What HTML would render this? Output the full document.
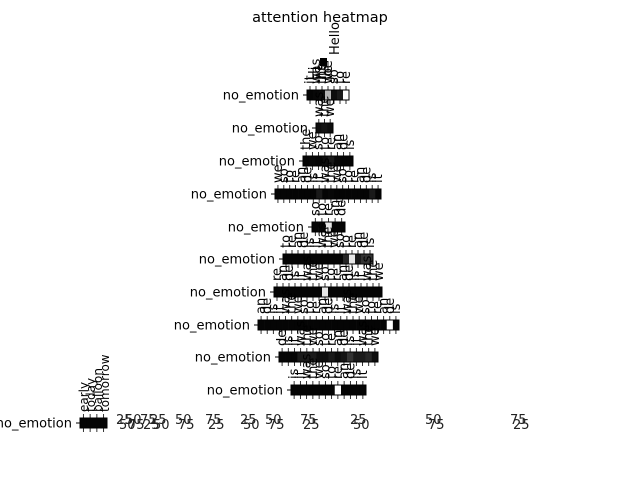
<!DOCTYPE html>
<html><head><meta charset="utf-8">
<style>
html,body{margin:0;padding:0;background:#fff;}
svg{display:block;font-family:"DejaVu Sans","Liberation Sans",sans-serif;}
</style></head>
<body>
<svg id="chart" width="640" height="480" viewBox="0 0 640 480" xmlns="http://www.w3.org/2000/svg">
<text x="320" y="22" font-size="14.5" text-anchor="middle">attention heatmap</text>
<g id="rows"></g>
<g id="xlabels" font-size="13"></g>
</svg>
<script>
// data: attention weights per row (0 = black, 1 = white)
const rowLabels = ["no_emotion","no_emotion","no_emotion","no_emotion","no_emotion","no_emotion","no_emotion","no_emotion","no_emotion","no_emotion","no_emotion"];
const row1 = [0.02,0.03,0.05,0.7,0.05,0.1,1.0];
const row2 = [0.05,0.08,0.05];
const row3 = [0.02,0.03,0.02,0.05,0.1,0.03,0.02,0.02];
const row4 = [0.02,0.02,0.02,0.02,0.02,0.02,0.02,0.1,0.02,0.03,0.02,0.02,0.02,0.02,0.02,0.02,0.1,0.02];
const row5 = [0.02,0.02,0.9,0.02,0.02];
const row6 = [0.02,0.02,0.02,0.02,0.02,0.02,0.02,0.02,0.02,0.02,0.15,0.9,0.1,0.2,0.2];
const row7 = [0.02,0.02,0.02,0.02,0.02,0.02,0.02,0.02,0.9,0.02,0.02,0.02,0.02,0.02,0.02,0.02,0.02,0.02];
const row8 = [0.02,0.02,0.02,0.02,0.02,0.02,0.02,0.02,0.02,0.02,0.02,0.02,0.02,0.02,0.02,0.02,0.02,0.02,0.02,0.02,0.02,1.0,0.02];
const row9 = [0.02,0.02,0.02,0.1,0.1,0.1,0.05,0.05,0.1,0.05,0.08,0.2,0.1,0.1,0.15,0.05];
const row10 = [0.02,0.02,0.02,0.02,0.02,0.02,0.02,1.0,0.02,0.02,0.02,0.02];
const row11 = [0.02,0.02,0.02,0.02];
const topWords = ["Hi","Its","Joe","Hello"];
const xTickText = ["25","50","75"];

// layout (not data)
const rowsData=[row1,row2,row3,row4,row5,row6,row7,row8,row9,row10,row11];
const layout=[[95,307,349],[128,316,333],[161,303,353],[194,275,381],[227,312,345],[259,283,373],[292,274,382],[325,258,399],[357,279,378],[390,291,366],[423,80,107]];
const ns="http://www.w3.org/2000/svg";
const g=document.getElementById('rows');
function col(v){const c=Math.round(v*255);return `rgb(${c},${c},${c})`;}
const words=["it","was","the","we","so","to","re","an","de","is"];
rowsData.forEach((vals,i)=>{
  const [cy,x0,x1]=layout[i];
  const w=(x1-x0)/vals.length, h=10;
  const lab=document.createElementNS(ns,'text');
  
  
  lab.setAttribute('x',x0-8);lab.setAttribute('y',cy+4.5);
  lab.setAttribute('font-size','13');lab.setAttribute('text-anchor','end');
  lab.textContent=rowLabels[i];g.appendChild(lab);
  const t=document.createElementNS(ns,'line');
  t.setAttribute('x1',x0-4);t.setAttribute('x2',x0);t.setAttribute('y1',cy);t.setAttribute('y2',cy);t.setAttribute('stroke','#000');
  g.appendChild(t);
  vals.forEach((v,j)=>{
    const r=document.createElementNS(ns,'rect');
    
    
    r.setAttribute('x',x0+j*w);r.setAttribute('y',cy-h/2);
    r.setAttribute('width',w+0.3);r.setAttribute('height',h);
    r.setAttribute('fill',col(v));g.appendChild(r);
    const tk=document.createElementNS(ns,'path');
    const cx=x0+(j+0.5)*w;
    tk.setAttribute('d',`M${cx},${cy-h/2}v-4M${cx},${cy+h/2}v4`);
    tk.setAttribute('stroke','#000');tk.setAttribute('stroke-width','0.8');
    g.appendChild(tk);
    if(i<10){
      const wd=document.createElementNS(ns,'text');
      
      
      wd.setAttribute('font-size','13');
      wd.setAttribute('transform',`translate(${cx+4},${cy-h/2-6}) rotate(-90)`);
      wd.textContent=words[(j+i)%10];
      g.appendChild(wd);
    }
  });
  const ol=document.createElementNS(ns,'rect');
  ol.setAttribute('x',x0);ol.setAttribute('y',cy-h/2);ol.setAttribute('width',x1-x0);ol.setAttribute('height',h);
  ol.setAttribute('fill','none');ol.setAttribute('stroke','#000');ol.setAttribute('stroke-width','1');
  g.appendChild(ol);
});
topWords.forEach((w,k)=>{
  const wd=document.createElementNS(ns,'text');
  
  
  wd.setAttribute('font-size','13');
  wd.setAttribute('transform',`translate(${318+k*7},${80-(k===3?25:0)}) rotate(-90)`);
  wd.textContent=w;g.appendChild(wd);
});
const tr=document.createElementNS(ns,'rect');


tr.setAttribute('x',320);tr.setAttribute('y',58);tr.setAttribute('width',7);tr.setAttribute('height',8);
g.appendChild(tr);
const xl=document.getElementById('xlabels');
[116,125,140,150,175,205,240,265,300,350,425,510].forEach((x,k)=>{
  for(let q=0;q<2;q++){
    const t=document.createElementNS(ns,'text');
    
    
    t.setAttribute('x',x+q*3);t.setAttribute('y',424+q*5);
    t.setAttribute('fill','#222');
    t.textContent=xTickText[(k+q)%3];xl.appendChild(t);
  }
});
["early","today","balloon","tomorrow"].forEach((w,k)=>{
  const wd=document.createElementNS(ns,'text');
  
  
  wd.setAttribute('font-size','12');
  wd.setAttribute('transform',`translate(${88+k*7},412) rotate(-90)`);
  wd.textContent=w;g.appendChild(wd);
});
</script>
</body></html>
